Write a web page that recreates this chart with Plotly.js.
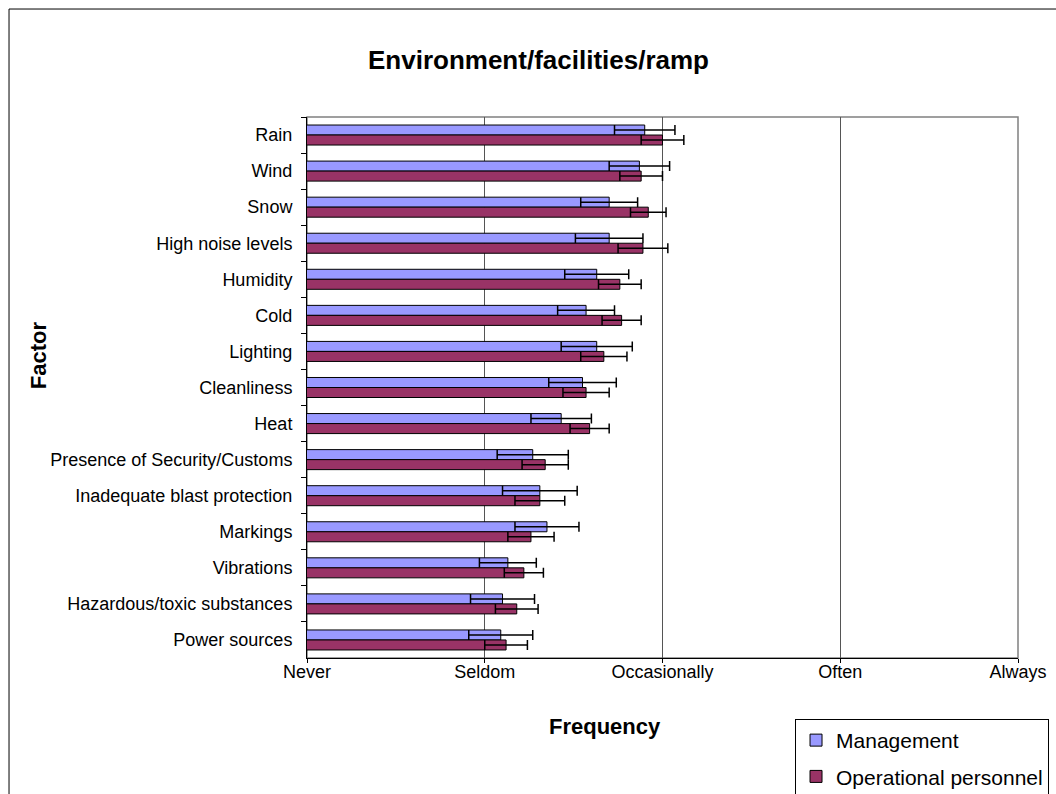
<!DOCTYPE html>
<html>
<head>
<meta charset="utf-8">
<script src="https://cdn.plot.ly/plotly-3.0.1.min.js"></script>
<style>
  html, body { margin: 0; padding: 0; background: #fff; }
  #chart { width: 1056px; height: 794px; }
</style>
</head>
<body>
<div id="chart"></div>
<script>
// Categories (top to bottom)
const factors = [
  "Rain", "Wind", "Snow", "High noise levels", "Humidity", "Cold", "Lighting",
  "Cleanliness", "Heat", "Presence of Security/Customs", "Inadequate blast protection",
  "Markings", "Vibrations", "Hazardous/toxic substances", "Power sources"
];
// Mean frequency (1 = Never ... 5 = Always)
const management = [2.90, 2.87, 2.70, 2.70, 2.63, 2.57, 2.63, 2.55, 2.43, 2.27, 2.31, 2.35, 2.13, 2.10, 2.09];
const managementErr = [0.17, 0.17, 0.16, 0.19, 0.18, 0.16, 0.20, 0.19, 0.17, 0.20, 0.21, 0.18, 0.16, 0.18, 0.18];
const operational = [3.00, 2.88, 2.92, 2.89, 2.76, 2.77, 2.67, 2.57, 2.59, 2.34, 2.31, 2.26, 2.22, 2.18, 2.12];
const operationalErr = [0.12, 0.12, 0.10, 0.14, 0.12, 0.11, 0.13, 0.13, 0.11, 0.13, 0.14, 0.13, 0.11, 0.12, 0.12];
// Frequency scale
const freqVals = [1, 2, 3, 4, 5];
const freqLabels = ["Never", "Seldom", "Occasionally", "Often", "Always"];

const FONT = "Arial, 'Liberation Sans', sans-serif";

const traces = [
  {
    type: "bar", orientation: "h", name: "Management", legendgroup: "m",
    y: factors, x: management,
    marker: { color: "#9999FF", line: { color: "#000000", width: 1 } },
    error_x: { type: "data", array: managementErr, visible: true, color: "#000000", thickness: 1.5, width: 5 }
  },
  {
    type: "bar", orientation: "h", name: "Operational personnel", legendgroup: "o",
    y: factors, x: operational,
    marker: { color: "#993366", line: { color: "#000000", width: 1 } },
    error_x: { type: "data", array: operationalErr, visible: true, color: "#000000", thickness: 1.5, width: 5 }
  }
];

const layout = {
  width: 1056, height: 794,
  margin: { l: 307, r: 38, t: 117, b: 136, autoexpand: false },
  paper_bgcolor: "#ffffff", plot_bgcolor: "#ffffff",
  font: { family: FONT, color: "#000000", size: 18 },
  barmode: "group", bargap: 0.445, bargroupgap: 0,
  showlegend: true,
  legend: {
    xref: "container", yref: "container",
    x: 0.9934, xanchor: "right", y: 0.0945, yanchor: "top",
    bordercolor: "#000000", borderwidth: 1, bgcolor: "#ffffff",
    font: { family: FONT, size: 21, color: "#000000" },
    traceorder: "grouped", tracegroupgap: 6
  },
  xaxis: {
    range: [1, 5], tickvals: freqVals, ticktext: freqLabels,
    showgrid: true, gridcolor: "#555555", gridwidth: 1,
    showline: true, linecolor: "#000000", linewidth: 1,
    ticks: "outside", ticklen: 4, tickcolor: "#000000",
    ticklabelstandoff: -7,
    tickfont: { family: FONT, size: 18 }, zeroline: false, fixedrange: true,
    automargin: false
  },
  yaxis: {
    type: "category", categoryorder: "array", categoryarray: factors,
    autorange: "reversed",
    showgrid: false, showline: true, linecolor: "#000000", linewidth: 1,
    ticks: "outside", ticklen: 5, tickcolor: "#000000", tickson: "boundaries",
    ticklabelstandoff: 10,
    tickfont: { family: FONT, size: 18 }, zeroline: false, fixedrange: true,
    automargin: false
  },
  shapes: [
    { type: "rect", xref: "paper", yref: "paper", x0: 0, x1: 1, y0: 0, y1: 1,
      line: { color: "#808080", width: 1.5 }, fillcolor: "rgba(0,0,0,0)", layer: "below" },
    { type: "rect", xref: "paper", yref: "paper", x0: -0.4191, x1: 1.2, y0: -0.4, y1: 1.1996,
      line: { color: "#000000", width: 1 }, fillcolor: "rgba(0,0,0,0)", layer: "below" }
  ],
  annotations: [
    { text: "<b>Environment/facilities/ramp</b>", xref: "paper", yref: "paper",
      x: 0.325, y: 1.105, xanchor: "center", yanchor: "middle", showarrow: false,
      font: { family: FONT, size: 26, color: "#000000" } },
    { text: "<b>Frequency</b>", xref: "paper", yref: "paper",
      x: 0.419, y: -0.1275, xanchor: "center", yanchor: "middle", showarrow: false,
      font: { family: FONT, size: 22, color: "#000000" } },
    { text: "<b>Factor</b>", xref: "paper", yref: "paper", textangle: -90,
      x: -0.378, y: 0.56, xanchor: "center", yanchor: "middle", showarrow: false,
      font: { family: FONT, size: 22, color: "#000000" } }
  ]
};

Plotly.newPlot("chart", traces, layout, { displayModeBar: false, staticPlot: true });
</script>
</body>
</html>
